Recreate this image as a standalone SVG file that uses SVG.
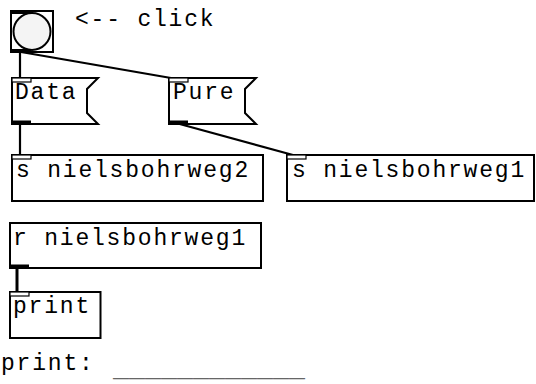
<svg xmlns="http://www.w3.org/2000/svg" width="536" height="384" viewBox="0 0 536 384">
<style>
.box{fill:#fff;stroke:#000;stroke-width:2}
.t{font-family:"Liberation Mono","Courier New",monospace;font-size:23px;letter-spacing:1.8px;fill:#000}
.io{fill:#000}
.in{fill:#fff;stroke:#000;stroke-width:1.2}
.w{stroke:#000;stroke-width:2.2;fill:none}
</style>
<rect width="536" height="384" fill="#fff"/>
<g id="connectors">
<line class="w" x1="20" y1="52" x2="20" y2="78"/>
<line class="w" x1="21" y1="52" x2="171" y2="78"/>
<line class="w" x1="20" y1="124" x2="20" y2="155"/>
<line class="w" x1="176" y1="123" x2="293" y2="155"/>
<line class="w" x1="17" y1="268" x2="17" y2="292" style="stroke-width:3"/>
</g>
<g id="bang">
<rect class="box" x="11" y="11" width="42" height="41"/>
<circle cx="32" cy="31.5" r="18.5" fill="#f4f4f4" stroke="#000" stroke-width="2"/>
<rect class="io" x="11" y="10" width="20" height="4"/>
<rect class="io" x="11" y="49" width="20" height="4"/>
</g>
<g id="comment-click"><text class="t" x="75" y="26">&lt;-- click</text></g>
<g id="msg-data">
<path class="box" d="M12,78 H98 L87,89 V113 L98,124 H12 Z"/>
<rect class="in" x="12" y="78" width="19" height="4"/>
<rect class="io" x="12" y="120.5" width="19" height="4"/>
<text class="t" x="15" y="99">Data</text>
</g>
<g id="msg-pure">
<path class="box" d="M169,78 H256 L245,89 V113 L256,124 H169 Z"/>
<rect class="in" x="169" y="78" width="19" height="4"/>
<rect class="io" x="169" y="120.5" width="19" height="4"/>
<text class="t" x="173" y="99">Pure</text>
</g>
<g id="send2">
<rect class="box" x="12" y="155" width="251" height="46"/>
<rect class="in" x="12" y="155" width="19" height="4"/>
<text class="t" x="16" y="177">s nielsbohrweg2</text>
</g>
<g id="send1">
<rect class="box" x="287" y="155" width="247" height="46"/>
<rect class="in" x="287" y="155" width="19" height="4"/>
<text class="t" x="292" y="177">s nielsbohrweg1</text>
</g>
<g id="receive1">
<rect class="box" x="10" y="223" width="251" height="45"/>
<rect class="io" x="10" y="264.5" width="19" height="4"/>
<text class="t" x="13" y="245">r nielsbohrweg1</text>
</g>
<g id="print">
<rect class="box" x="10" y="292" width="90.5" height="46"/>
<rect class="in" x="10" y="292" width="19" height="4"/>
<text class="t" x="13" y="313">print</text>
</g>
<g id="print-label">
<text class="t" x="1" y="370">print:</text>
<text class="t" x="113" y="377" textLength="192" lengthAdjust="spacingAndGlyphs" style="fill:#666;letter-spacing:0">____________</text>
</g>
</svg>
